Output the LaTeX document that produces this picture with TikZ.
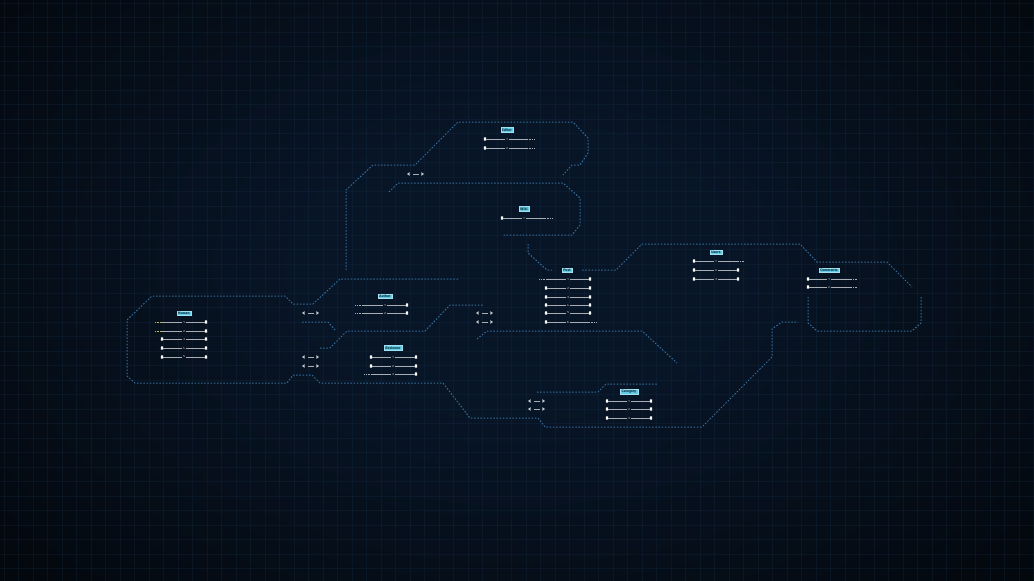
\documentclass[tikz,border=0pt]{standalone}
\usepackage{fontspec}
\setsansfont{Fira Sans}
\usepackage{xcolor}
\usetikzlibrary{positioning,calc}
\definecolor{bgmid}{HTML}{081526}
\definecolor{bgedge}{HTML}{010203}
\definecolor{gridcol}{HTML}{1C3A58}
\definecolor{wirecol}{HTML}{336D9C}
\definecolor{tagcol}{HTML}{63CBE4}
\definecolor{tagtext}{HTML}{0B3344}
\definecolor{rowcol}{HTML}{A9AEB5}
\definecolor{leadcol}{HTML}{C9B35A}
\pgfdeclareradialshading{vignette}{\pgfpoint{0bp}{0bp}}{color(0bp)=(bgmid); color(10bp)=(bgmid); color(42bp)=(bgedge); color(75bp)=(bgedge)}
\tikzset{
  wire/.style={draw=wirecol, line width=1pt, dash pattern=on 1.5pt off 1.7pt},
  tagbox/.style={fill=tagcol, draw=tagcol!60!white, line width=0.3pt, inner xsep=1.4pt, inner ysep=0.9pt,
    font=\sffamily\bfseries\fontsize{3.6}{4}\selectfont, text=tagtext},
  pin/.style={fill=white, rounded corners=0.4pt, minimum width=2.4pt, minimum height=3.4pt, inner sep=0pt},
  lead/.style={minimum width=7pt, minimum height=1.4pt, inner sep=0pt, path picture={
    \draw[leadcol, line width=1pt, dash pattern=on 0.8pt off 0.8pt] (path picture bounding box.west) -- (path picture bounding box.east);}},
  tail/.style={minimum width=7pt, minimum height=1.4pt, inner sep=0pt, path picture={
    \draw[rowcol, line width=1pt, dash pattern=on 1pt off 0.8pt] (path picture bounding box.west) -- (path picture bounding box.east);}},
  numtag/.style={font=\sffamily\fontsize{3}{3}\selectfont, text=white, inner sep=1pt},
  fieldline/.style={rowcol, line width=1pt},
}
% name, left style, left x, mid x, right style, right x, y, number
\newcommand{\fieldrow}[8]{%
  \node[#2] (#1a) at (#3,#7) {};
  \node[numtag] (#1m) at (#4,#7) {#8};
  \node[#5] (#1b) at (#6,#7) {};
  \draw[fieldline] (#1a) -- (#1m) -- (#1b);}
% name, x, y
\newcommand{\swap}[3]{%
  \coordinate (#1) at (#2,#3);
  \fill[rowcol!70!white] (#1) -- ++(2.6,-1.8) -- ++(0,3.6) -- cycle;
  \draw[rowcol, line width=0.9pt] ($(#1)+(6,0)$) -- ($(#1)+(12,0)$);
  \fill[rowcol!70!white] ($(#1)+(17,0)$) -- ++(-2.6,-1.8) -- ++(0,3.6) -- cycle;}
\begin{document}
\begin{tikzpicture}[x=1pt, y=-1pt]
  \useasboundingbox (0,0) rectangle (1034,581);
  \begin{scope}
    \clip (0,0) rectangle (1034,581);
    \shade[shading=vignette] (-20,-80) rectangle (1054,620);
    \foreach \gx in {4,18.5,...,1034} \draw[gridcol, line width=0.35pt, opacity=0.2] (\gx,0) -- (\gx,581);
    \foreach \gy in {3,17.5,...,581} \draw[gridcol, line width=0.35pt, opacity=0.2] (0,\gy) -- (1034,\gy);
  \end{scope}

  % outlines
  \draw[wire] (458,279) -- (340,279) -- (313,304) -- (293,304) -- (285,296) -- (152,296) -- (127,320)
    -- (127,376) -- (135,383) -- (287,383) -- (293,375) -- (312,375) -- (320,383) -- (443,383)
    -- (470,418) -- (538,418) -- (545,427) -- (702,427) -- (772,357) -- (772,329) -- (782,322) -- (798,322);
  \draw[wire] (302,322) -- (328,322) -- (335,330);
  \draw[wire] (320,348) -- (330,348) -- (347,331) -- (425,331) -- (450,305) -- (483,305);
  \draw[wire] (346,270) -- (346,190) -- (373,165) -- (415,165) -- (458,122) -- (573,122) -- (588,138)
    -- (588,153) -- (580,165) -- (572,165) -- (563,175);
  \draw[wire] (389,192) -- (398,183) -- (563,183) -- (580,198) -- (580,225) -- (572,235) -- (502,235);
  \draw[wire] (528,244) -- (528,253) -- (547,270) -- (552,270);
  \draw[wire] (582,270) -- (616,270) -- (642,244) -- (800,244) -- (817,262) -- (887,262) -- (912,287);
  \draw[wire] (921,297) -- (921,323) -- (912,331) -- (817,331) -- (808,323) -- (808,297);
  \draw[wire] (477,339) -- (487,331) -- (642,331) -- (677,363);
  \draw[wire] (537,392) -- (598,392) -- (606,384) -- (658,384);

  % tables
  \node[tagbox] (human) at (184,313) {Human};
  \fieldrow{h1}{lead}{158.5}{184}{pin}{206}{322}{1}
  \fieldrow{h2}{lead}{158.5}{184}{pin}{206}{331}{2}
  \fieldrow{h3}{pin}{162}{184}{pin}{206}{339}{3}
  \fieldrow{h4}{pin}{162}{184}{pin}{206}{348}{4}
  \fieldrow{h5}{pin}{162}{184}{pin}{206}{357}{5}

  \node[tagbox] (author) at (385,296) {Author};
  \fieldrow{a1}{tail}{358.5}{385}{pin}{407}{305}{1}
  \fieldrow{a2}{tail}{358.5}{385}{pin}{407}{313}{2}

  \node[tagbox] (review) at (393,348) {Reviewer};
  \fieldrow{r1}{pin}{371}{393}{pin}{416}{357}{1}
  \fieldrow{r2}{pin}{371}{393}{pin}{416}{366}{2}
  \fieldrow{r3}{tail}{367.5}{393}{pin}{416}{374}{3}

  \node[tagbox] (editor) at (507,130) {Editor};
  \fieldrow{e1}{pin}{485}{507}{tail}{532}{139}{1}
  \fieldrow{e2}{pin}{485}{507}{tail}{532}{148}{2}

  \node[tagbox] (wiki) at (524,209) {Wiki};
  \fieldrow{w1}{pin}{502}{524}{tail}{550}{218}{1}

  \node[tagbox] (post) at (567,270) {Post};
  \fieldrow{p1}{tail}{542.5}{568}{pin}{590}{279}{1}
  \fieldrow{p2}{pin}{546}{568}{pin}{590}{288}{2}
  \fieldrow{p3}{pin}{546}{568}{pin}{590}{297}{3}
  \fieldrow{p4}{pin}{546}{568}{pin}{590}{305}{4}
  \fieldrow{p5}{pin}{546}{568}{pin}{590}{313}{5}
  \fieldrow{p6}{pin}{546}{568}{tail}{594}{322}{6}

  \node[tagbox] (users) at (716,252) {Users};
  \fieldrow{u1}{pin}{694}{716}{tail}{741.5}{261}{1}
  \fieldrow{u2}{pin}{694}{716}{pin}{738}{270}{2}
  \fieldrow{u3}{pin}{694}{716}{pin}{738}{279}{3}

  \node[tagbox] (comments) at (829,270) {Comments};
  \fieldrow{c1}{pin}{808}{829}{tail}{854.5}{279}{1}
  \fieldrow{c2}{pin}{808}{829}{tail}{854.5}{287}{2}

  \node[tagbox] (category) at (629,392) {Category};
  \fieldrow{k1}{pin}{607}{629}{pin}{651}{401}{1}
  \fieldrow{k2}{pin}{607}{629}{pin}{651}{409}{2}
  \fieldrow{k3}{pin}{607}{629}{pin}{651}{418}{3}

  % switches
  \swap{s1}{407}{174}
  \swap{s2}{302}{313}
  \swap{s3}{302}{357}
  \swap{s4}{302}{366}
  \swap{s5}{476}{313}
  \swap{s6}{476}{322}
  \swap{s7}{528}{401}
  \swap{s8}{528}{409}
\end{tikzpicture}
\end{document}
